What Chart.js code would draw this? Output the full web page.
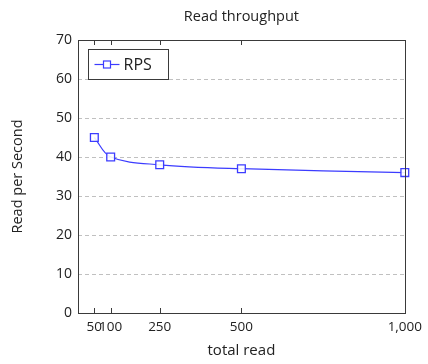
<!DOCTYPE html>
<html>
<head>
<meta charset="utf-8">
<script src="https://cdn.jsdelivr.net/npm/chart.js@4"></script>
<style>
  html, body { margin: 0; padding: 0; background: #fff; }
  #wrap { width: 428px; height: 364px; }
</style>
</head>
<body>
<div id="wrap"><canvas id="rpsChart" width="428" height="364"></canvas></div>
<script>
// Chart data
const totalRead = [50, 100, 250, 500, 1000];
const readsPerSecond = [45, 40, 38, 37, 36];
const xTicks = [50, 100, 250, 500, 1000];
const yTicks = [0, 10, 20, 30, 40, 50, 60, 70];
const chartTitle = 'Read throughput';

const FONT = "'Open Sans', 'Noto Sans', sans-serif";
const LINE_COLOR = 'rgba(60, 60, 255, 1)';

// Title over the plot, frame, inner tick marks and legend box (pgfplots look)
const framePlugin = {
    id: 'frame',
    afterDatasetsDraw(chart) {
        const { ctx, chartArea: a, scales } = chart;
        ctx.save();

        // title centred over the plot area
        ctx.fillStyle = '#222';
        ctx.font = '14.5px ' + FONT;
        ctx.textAlign = 'center';
        ctx.textBaseline = 'middle';
        ctx.fillText(chartTitle, (a.left + a.right) / 2, 17);

        ctx.strokeStyle = '#3a3a3a';
        ctx.lineWidth = 1;

        // x ticks pointing inward, bottom and top
        xTicks.forEach(v => {
            const px = Math.round(scales.x.getPixelForValue(v)) + 0.5;
            ctx.beginPath();
            ctx.moveTo(px, a.bottom);
            ctx.lineTo(px, a.bottom - 5);
            ctx.moveTo(px, a.top);
            ctx.lineTo(px, a.top + 5);
            ctx.stroke();
        });

        ctx.strokeRect(Math.round(a.left) + 0.5, Math.round(a.top) + 0.5,
            Math.round(a.right - a.left), Math.round(a.bottom - a.top));

        // legend
        const ds = chart.data.datasets[0];
        const lx = Math.round(a.left) + 10.5, ly = Math.round(a.top) + 9.5, lw = 80, lh = 30;
        ctx.fillStyle = '#fff';
        ctx.fillRect(lx, ly, lw, lh);
        ctx.strokeRect(lx, ly, lw, lh);
        const cy = ly + lh / 2;
        ctx.strokeStyle = ds.borderColor;
        ctx.lineWidth = 1.2;
        ctx.beginPath();
        ctx.moveTo(lx + 6, cy);
        ctx.lineTo(lx + 31, cy);
        ctx.stroke();
        ctx.fillStyle = '#fff';
        ctx.fillRect(lx + 15, cy - 3.5, 7, 7);
        ctx.strokeRect(lx + 15, cy - 3.5, 7, 7);
        ctx.fillStyle = '#222';
        ctx.font = '16px ' + FONT;
        ctx.textAlign = 'left';
        ctx.fillText(ds.label, lx + 35, cy + 1);
        ctx.restore();
    }
};

const rpsChart = new Chart(document.getElementById('rpsChart'), {
    type: 'line',
    data: {
        datasets: [{
            label: 'RPS',
            data: totalRead.map((x, i) => ({ x: x, y: readsPerSecond[i] })),
            borderColor: LINE_COLOR,
            backgroundColor: '#fff',
            borderWidth: 1.2,
            pointStyle: 'rect',
            pointRadius: 5.5,
            pointBorderWidth: 1.3,
            pointBorderColor: LINE_COLOR,
            pointBackgroundColor: 'rgba(255,255,255,0.9)',
            tension: 0.35,
            clip: false
        }]
    },
    options: {
        responsive: false,
        animation: false,
        layout: { padding: { left: 0, right: 21, top: 40, bottom: 0 } },
        plugins: {
            legend: { display: false },
            tooltip: { enabled: false },
            title: { display: false }
        },
        scales: {
            x: {
                type: 'linear',
                min: 0,
                max: 1000,
                afterBuildTicks: s => { s.ticks = xTicks.map(v => ({ value: v })); },
                afterFit: s => { s.height = 51; },
                grid: { display: false, drawTicks: false },
                border: { display: false },
                ticks: {
                    color: '#222',
                    padding: 6,
                    maxRotation: 0,
                    autoSkip: false,
                    font: { family: FONT, size: 13.5 },
                    callback: v => v.toLocaleString('en-US')
                },
                title: {
                    display: true,
                    text: 'total read',
                    color: '#222',
                    font: { family: FONT, size: 15 },
                    padding: { top: 2, bottom: 4 }
                }
            },
            y: {
                min: 0,
                max: 70,
                afterBuildTicks: s => { s.ticks = yTicks.map(v => ({ value: v })); },
                afterFit: s => { s.width = 78; },
                grid: {
                    drawTicks: false,
                    color: ctx => (ctx.tick.value === 0 || ctx.tick.value === 70) ? 'rgba(0,0,0,0)' : '#c0c0c0',
                    lineWidth: 1
                },
                border: { display: false, dash: [4, 3] },
                ticks: {
                    color: '#222',
                    padding: 6,
                    font: { family: FONT, size: 14 }
                },
                title: {
                    display: true,
                    text: 'Read per Second',
                    color: '#222',
                    font: { family: FONT, size: 14.5 },
                    padding: { top: 9, bottom: 0 }
                }
            }
        }
    },
    plugins: [framePlugin]
});
</script>
</body>
</html>
